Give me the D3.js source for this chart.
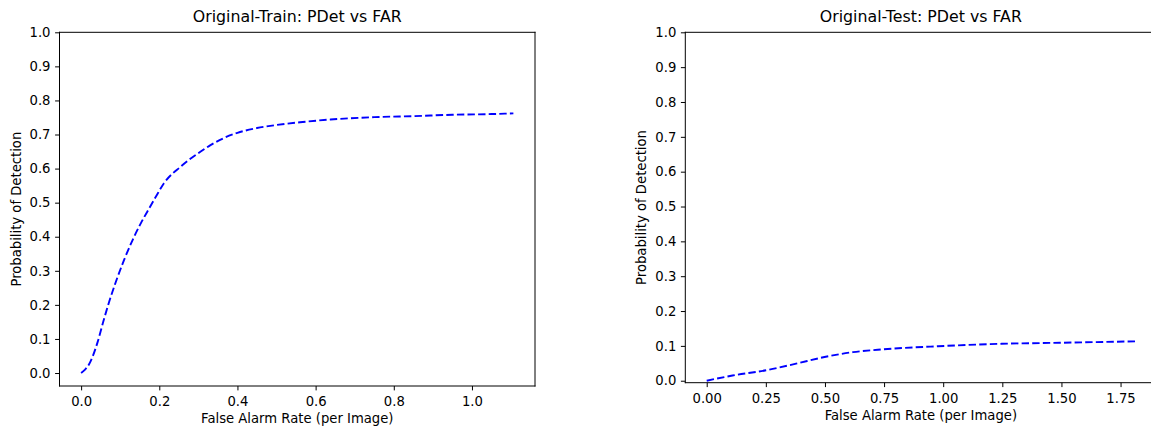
<!DOCTYPE html>
<html>
<head>
<meta charset="utf-8">
<script src="https://cdn.jsdelivr.net/npm/d3@7"></script>
<style>
  body { margin: 0; background: #fff; }
  svg { display: block; font-family: "DejaVu Sans", sans-serif; }
</style>
</head>
<body>
<svg id="chart" width="1151" height="431"></svg>
<script>
// values
const trainFar = [0, 0.010, 0.020, 0.030, 0.042, 0.059, 0.072, 0.089, 0.110, 0.132, 0.153, 0.170, 0.190, 0.212, 0.255, 0.306, 0.330, 0.366, 0.400, 0.450, 0.500, 0.560, 0.638, 0.750, 0.851, 0.950, 1.050, 1.106];
const trainPd  = [0, 0.010, 0.025, 0.050, 0.090, 0.160, 0.210, 0.268, 0.332, 0.391, 0.440, 0.475, 0.515, 0.557, 0.606, 0.650, 0.668, 0.690, 0.705, 0.719, 0.728, 0.736, 0.744, 0.751, 0.754, 0.758, 0.760, 0.762];

const testFar = [0, 0.109, 0.251, 0.378, 0.498, 0.618, 0.745, 0.978, 1.247, 1.494, 1.811];
const testPd  = [0, 0.015, 0.030, 0.049, 0.068, 0.082, 0.090, 0.099, 0.106, 0.109, 0.113];

const trainXTicks = [0, 0.2, 0.4, 0.6, 0.8, 1.0];
const testXTicks = [0, 0.25, 0.5, 0.75, 1.0, 1.25, 1.5, 1.75];
const yTicks = [0, 0.1, 0.2, 0.3, 0.4, 0.5, 0.6, 0.7, 0.8, 0.9, 1.0];

const titles = ["Original-Train: PDet vs FAR", "Original-Test: PDet vs FAR"];
const xLabel = "False Alarm Rate (per Image)";
const yLabel = "Probability of Detection";

const svg = d3.select("#chart");
const tickFont = 13.2;

function drawPanel(cfg) {
  const { left, top, width, height, far, pd, xTicks, xFmt, title, rightSpine } = cfg;

  // matplotlib style 5% margins, y top pinned to 1
  const xr = d3.max(far) - d3.min(far);
  const yr = d3.max(pd) - d3.min(pd);
  const x = d3.scaleLinear()
    .domain([d3.min(far) - 0.05 * xr, d3.max(far) + 0.05 * xr])
    .range([left, left + width]);
  const y = d3.scaleLinear()
    .domain([d3.min(pd) - 0.05 * yr, 1.0])
    .range([top + height, top]);

  const g = svg.append("g");

  // x axis
  const xAxis = g.append("g")
    .attr("transform", `translate(0,${top + height})`)
    .call(d3.axisBottom(x).tickValues(xTicks).tickFormat(xFmt).tickSize(4.4).tickPadding(6.5));
  // y axis
  const yAxis = g.append("g")
    .attr("transform", `translate(${left},0)`)
    .call(d3.axisLeft(y).tickValues(yTicks).tickFormat(d3.format(".1f")).tickSize(4.4).tickPadding(4.6));

  [xAxis, yAxis].forEach(a => {
    a.select(".domain").remove();
    a.selectAll(".tick line").attr("stroke", "#000").attr("stroke-width", 1);
    a.selectAll(".tick text")
      .attr("fill", "#000")
      .style("font-size", tickFont + "px")
      .style("font-family", "DejaVu Sans, sans-serif");
  });

  // spines
  const x0 = left, x1 = left + width, y0 = top, y1 = top + height;
  const spines = [[x0, y0, x0, y1], [x0, y1, x1, y1], [x0, y0, x1, y0]];
  if (rightSpine) spines.push([x1, y0, x1, y1]);
  g.selectAll("line.spine").data(spines).join("line")
    .attr("class", "spine")
    .attr("x1", d => d[0]).attr("y1", d => d[1])
    .attr("x2", d => d[2]).attr("y2", d => d[3])
    .attr("stroke", "#000").attr("stroke-width", 1)
    .attr("stroke-linecap", "square");

  // curve
  const pts = far.map((f, i) => [f, pd[i]]);
  const line = d3.line()
    .x(d => x(d[0]))
    .y(d => y(d[1]))
    .curve(d3.curveMonotoneX);
  g.append("path")
    .datum(pts)
    .attr("d", line)
    .attr("fill", "none")
    .attr("stroke", "#0000ff")
    .attr("stroke-width", 1.9)
    .attr("stroke-dasharray", "7.4,3.2");

  // title
  g.append("text")
    .attr("x", left + width / 2)
    .attr("y", top - 10)
    .attr("text-anchor", "middle")
    .style("font-size", "15.8px")
    .attr("fill", "#000")
    .text(title);

  // x label
  g.append("text")
    .attr("x", left + width / 2)
    .attr("y", cfg.xLabelY)
    .attr("text-anchor", "middle")
    .style("font-size", tickFont + "px")
    .attr("fill", "#000")
    .text(xLabel);

  // y label
  g.append("text")
    .attr("transform", `translate(${cfg.yLabelX},${top + height / 2}) rotate(-90)`)
    .attr("text-anchor", "middle")
    .style("font-size", tickFont + "px")
    .attr("fill", "#000")
    .text(yLabel);
}

drawPanel({
  left: 59.5, top: 32.3, width: 475.5, height: 353.7,
  far: trainFar, pd: trainPd,
  xTicks: trainXTicks, xFmt: d3.format(".1f"),
  title: titles[0], rightSpine: true,
  xLabelY: 422.5, yLabelX: 20.5
});

drawPanel({
  left: 685.3, top: 32.3, width: 471.1, height: 350.4,
  far: testFar, pd: testPd,
  xTicks: testXTicks, xFmt: d3.format(".2f"),
  title: titles[1], rightSpine: false,
  xLabelY: 419.5, yLabelX: 646
});
</script>
</body>
</html>
